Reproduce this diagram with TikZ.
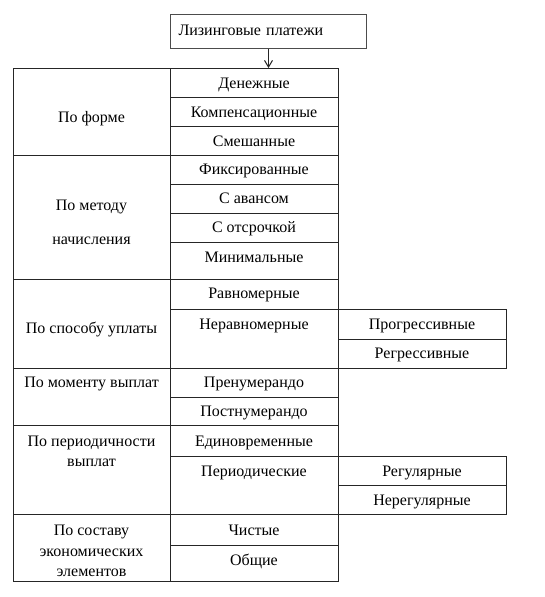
\documentclass[tikz,border=0pt]{standalone}
\usepackage{fontspec}
\setmainfont{Liberation Serif}
\usetikzlibrary{arrows.meta}

\begin{document}
\begin{tikzpicture}[x=0.75pt,y=-0.75pt,>={Straight Barb[length=5pt,width=6pt]},
    every node/.style={font=\fontsize{12}{15}\selectfont,inner sep=0pt,text height=8pt,text depth=2.5pt},
    tab/.style={draw=black!85,line width=0.75pt}]
    \useasboundingbox (0,0) rectangle (544,597);
    % root
    \node (lp) [tab,draw=black!70,anchor=north west,minimum height=25.5pt,text width=135pt,inner xsep=6pt,align=left] at (170,14) {Лизинговые платежи};
    \coordinate (tabtop) at (170,68);
    \draw[tab,->] (lp.south) -- (lp.south |- tabtop);
    % left column: groups
    \foreach \ya/\yb in {68/155,155/279,279/368,368/425,425/514,514/581}{\draw[tab] (13,\ya) rectangle (170,\yb);}
    \node (forma) at (91.5,119) {По форме};
    \node (metod) [align=center] at (91.5,241) {По методу\\[10.5pt]начисления};
    \node (sposob) at (91.5,330) {По способу уплаты};
    \node (moment) at (91.5,384) {По моменту выплат};
    \node (period) [align=center] at (91.5,463) {По периодичности\\выплат};
    \node (sostav) [align=center] at (91.5,573) {По составу\\[0.5pt]экономических\\[0.5pt]элементов};
    % middle column
    \foreach \ya/\yb/\yt/\n/\t in {68/97/84.5/den/Денежные,97/126/113.5/komp/Компенсационные,126/155/142.5/smesh/Смешанные,
      155/184/171/fiks/Фиксированные,184/213/200/avans/С авансом,213/242/229/otsr/С отсрочкой,242/279/259/minim/Минимальные,
      279/309/295/ravn/Равномерные,309/368/326/nerav/Неравномерные,368/397/384/pren/Пренумерандо,397/425/413/postn/Постнумерандо,
      425/456/443/edin/Единовременные,456/514/473/perd/Периодические,514/545/532/chist/Чистые,545/581/562/obsh/Общие}{
      \draw[tab] (170,\ya) rectangle (338,\yb);
      \node (\n) at (254,\yt) {\t};
    }
    % right column
    \foreach \ya/\yb/\yt/\n/\t in {309/339/326/progr/Прогрессивные,339/368/355/regr/Регрессивные,
      456/485/473/regul/Регулярные,485/514/502/nereg/Нерегулярные}{
      \draw[tab] (338,\ya) rectangle (506,\yb);
      \node (\n) at (422,\yt) {\t};
    }
\end{tikzpicture}
\end{document}
